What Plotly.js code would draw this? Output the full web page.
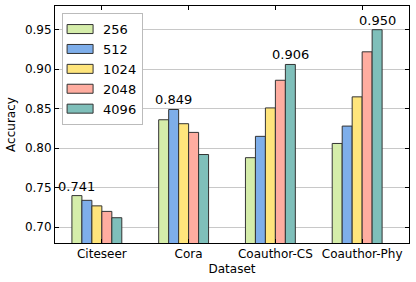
<!DOCTYPE html>
<html><head><meta charset="utf-8">
<script src="https://cdn.plot.ly/plotly-3.0.1.min.js"></script>
<style>html,body{margin:0;padding:0;background:#fff;}#c{width:416px;height:282px;}</style>
</head><body><div id="c"></div>
<script>
const categories = ["Citeseer", "Cora", "Coauthor-CS", "Coauthor-Phy"];
const seriesNames = ["256", "512", "1024", "2048", "4096"];
const v256  = [0.740, 0.836, 0.788, 0.806];
const v512  = [0.734, 0.849, 0.815, 0.828];
const v1024 = [0.727, 0.831, 0.851, 0.865];
const v2048 = [0.720, 0.820, 0.886, 0.922];
const v4096 = [0.712, 0.792, 0.906, 0.950];
const maxLabels = ["0.741", "0.849", "0.906", "0.950"];
const colors = ["#d5edaa", "#7eaeea", "#ffe57c", "#ffada0", "#7fbfba"];

const allVals = [v256, v512, v1024, v2048, v4096];
const barW = 0.115, startOff = -0.345;
const traces = allVals.map((vals, k) => ({
  type: 'bar', name: seriesNames[k], x: categories, y: vals,
  width: barW, offset: startOff + k * barW,
  marker: {color: colors[k], line: {color: '#333', width: 1}}
}));

const annotations = categories.map((c, i) => {
  let best = 0;
  for (let k = 1; k < allVals.length; k++) if (allVals[k][i] > allVals[best][i]) best = k;
  return {x: i + startOff + (best + 0.5) * barW, y: allVals[best][i], xref: 'x', yref: 'y',
    text: maxLabels[i], showarrow: false, yanchor: 'bottom', xanchor: 'center', yshift: 0,
    font: {family: 'DejaVu Sans', size: 13, color: '#000'}};
});

const layout = {
  width: 416, height: 282,
  margin: {l: 55, r: 7, t: 6, b: 39},
  paper_bgcolor: '#fff', plot_bgcolor: '#fff',
  font: {family: 'DejaVu Sans', size: 12, color: '#000'},
  barmode: 'overlay',
  showlegend: true,
  legend: {x: 0.02, y: 0.97, xanchor: 'left', yanchor: 'top', bgcolor: '#fff', itemwidth: 30,
    bordercolor: '#bbb', borderwidth: 1, font: {family: 'DejaVu Sans', size: 13}, traceorder: 'normal'},
  xaxis: {type: 'category', range: [-0.54, 3.54], showgrid: false, showline: true, linecolor: '#000', linewidth: 1,
    mirror: 'ticks', ticks: 'inside', ticklen: 4, tickcolor: '#000',
    tickfont: {size: 12}, title: {text: 'Dataset', font: {size: 12}, standoff: 4}},
  yaxis: {range: [0.68, 0.98], tickvals: [0.70, 0.75, 0.80, 0.85, 0.90, 0.95], tickformat: '.2f',
    showgrid: true, gridcolor: '#c8c8c8', gridwidth: 1, zeroline: false,
    showline: true, linecolor: '#000', linewidth: 1, mirror: 'ticks', ticks: 'inside', ticklen: 4, tickcolor: '#000',
    tickfont: {size: 12}, title: {text: 'Accuracy', font: {size: 12}, standoff: 6}},
  annotations: annotations
};
Plotly.newPlot('c', traces, layout, {displayModeBar: false, staticPlot: true}).then(gd => {
  gd.querySelectorAll('.legend .legendpoints path').forEach(p => {
    p.setAttribute('d', 'M-13,4.5H13V-4.5H-13Z');
    p.setAttribute('transform', 'translate(17,0)');
  });
});
</script></body></html>
